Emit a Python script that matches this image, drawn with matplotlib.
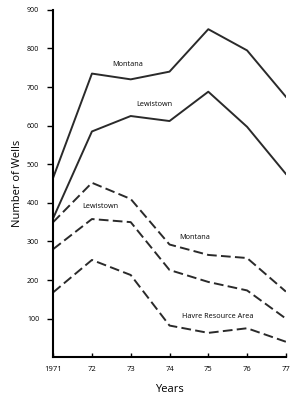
import matplotlib
matplotlib.use("Agg")
import matplotlib.pyplot as plt

plt.rcParams['font.family'] = ['Open Sans', 'DejaVu Sans']

years = [1971, 1972, 1973, 1974, 1975, 1976, 1977]
year_labels = ['1971', '72', '73', '74', '75', '76', '77']

# solid lines
montana_total = [465, 735, 720, 740, 850, 795, 675]
lewistown_total = [360, 585, 625, 612, 688, 597, 475]
# dashed lines
lewistown_dash = [350, 452, 410, 292, 265, 257, 170]
montana_dash = [280, 358, 350, 226, 195, 173, 100]
havre = [168, 252, 213, 82, 63, 75, 40]

fig = plt.figure(figsize=(2.92, 3.96), dpi=100)
ax = fig.add_axes([0.182, 0.098, 0.797, 0.877])

lw = 1.4
for vals in (montana_total, lewistown_total):
    ax.plot(years, vals, color='#2a2a2a', lw=lw)
for vals in (lewistown_dash, montana_dash, havre):
    ax.plot(years, vals, color='#2a2a2a', lw=lw, linestyle=(0, (5, 2.2)))

fs = 5.2
ax.text(1972.93, 758, 'Montana', fontsize=fs, ha='center', va='center')
ax.text(1973.6, 655, 'Lewistown', fontsize=fs, ha='center', va='center')
ax.text(1972.21, 390, 'Lewistown', fontsize=fs, ha='center', va='center')
ax.text(1974.66, 309, 'Montana', fontsize=fs, ha='center', va='center')
ax.text(1975.25, 106, 'Havre Resource Area', fontsize=fs, ha='center', va='center')

ax.set_xlim(1971, 1977)
ax.set_ylim(0, 900)
ax.set_xticks(years)
ax.set_xticklabels(year_labels)
ax.set_yticks([100, 200, 300, 400, 500, 600, 700, 800, 900])

ax.spines['top'].set_visible(False)
ax.spines['right'].set_visible(False)
ax.spines['left'].set_linewidth(1.5)
ax.spines['bottom'].set_linewidth(1.5)
ax.tick_params(axis='y', direction='out', length=4, width=1, labelsize=5, pad=6)
ax.tick_params(axis='x', direction='in', length=3, width=1, labelsize=5.5, pad=6)

ax.set_ylabel('Number of Wells', fontsize=8, labelpad=3)
ax.set_xlabel('Years', fontsize=8, labelpad=8)

fig.savefig('out.png', dpi=100)
